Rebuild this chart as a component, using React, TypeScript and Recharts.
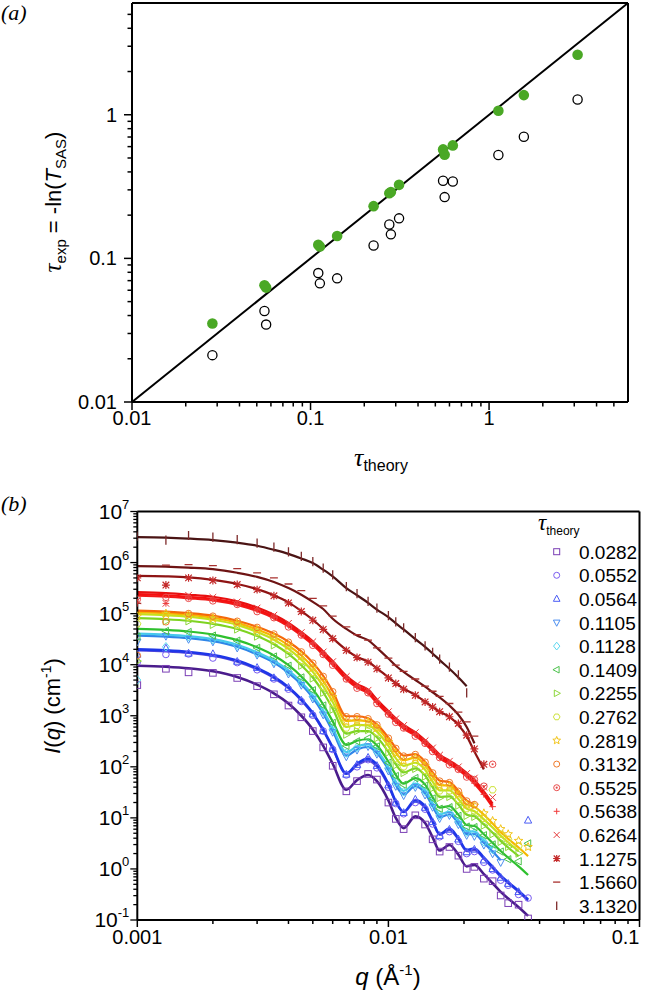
import React from 'react';
import { ComposedChart, Line, Scatter, XAxis, YAxis } from 'recharts';

const FONT = "'Liberation Sans', Arial, Helvetica, sans-serif";
const SERIF = "'Liberation Serif', 'Times New Roman', serif";

// ---------------- Panel (a) data ----------------
const TAU_THEORY = [0.0282, 0.0552, 0.0564, 0.1105, 0.1128, 0.1409, 0.2255, 0.2762, 0.2819, 0.3132, 0.5525, 0.5638, 0.6264, 1.1275, 1.566, 3.132];
const TAU_EXP_CORRECTED = [0.0352, 0.0649, 0.0626, 0.1245, 0.121, 0.143, 0.231, 0.284, 0.29, 0.325, 0.574, 0.527, 0.612, 1.066, 1.37, 2.62];
const TAU_EXP_RAW = [0.0212, 0.043, 0.0346, 0.079, 0.067, 0.0726, 0.123, 0.172, 0.147, 0.19, 0.347, 0.267, 0.343, 0.525, 0.703, 1.277];
const DIAGONAL = [0.01, 6];
const A_DOMAIN = [0.01, 6];
const A_MAJOR_TICKS = [0.01, 0.1, 1];
const A_MAJOR_LABELS = ['0.01', '0.1', '1'];
const A_MINOR_TICKS = [0.02, 0.03, 0.04, 0.05, 0.06, 0.07, 0.08, 0.09, 0.2, 0.3, 0.4, 0.5, 0.6, 0.7, 0.8, 0.9, 2, 3, 4, 5];

// ---------------- Panel (b) data ----------------
const Q_GRID = [0.001, 0.0013, 0.0016, 0.002, 0.0025, 0.003, 0.0035, 0.004, 0.0045, 0.005, 0.0055, 0.006, 0.0068, 0.0075, 0.0083, 0.009, 0.01, 0.0107, 0.0115, 0.0128, 0.014, 0.015, 0.016, 0.0175, 0.019, 0.0205, 0.022, 0.024, 0.026, 0.028, 0.03, 0.033, 0.036];
const B_TAU_LABELS = ['0.0282', '0.0552', '0.0564', '0.1105', '0.1128', '0.1409', '0.2255', '0.2762', '0.2819', '0.3132', '0.5525', '0.5638', '0.6264', '1.1275', '1.5660', '3.1320'];
const B_MARKERS = ['square', 'circle', 'triUp', 'triDown', 'diamond', 'triLeft', 'triRight', 'hexagon', 'star', 'circle', 'circleDot', 'plus', 'cross', 'asterisk', 'hdash', 'vbar'];
const B_MARK_COLORS = ['#7b3fb5', '#7a5cf0', '#4a5cf5', '#4a8ef0', '#5ad8f0', '#4cc24c', '#8ed83c', '#cde23a', '#f2c418', '#f07a2a', '#e84a4a', '#f03a3a', '#e63a3a', '#c42a2a', '#a8302e', '#7e2a2a'];
const B_LINE_COLORS = ['#4a1c8c', '#5a4ad8', '#1e36e8', '#2f86e8', '#46c8ec', '#2ec02e', '#7ed321', '#c4e01c', '#f5b800', '#f56a0a', '#f21a1a', '#f51010', '#e81010', '#8e1414', '#6e1414', '#4a1414'];

// fitted curves, log10 I(q) read on Q_GRID
const FIT_0282 = [3.98, 3.96, 3.93, 3.87, 3.76, 3.61, 3.44, 3.24, 3.0, 2.73, 2.41, 2.06, 1.55, 1.74, 1.84, 1.72, 1.34, 1.0, 0.8, 1.03, 0.9, 0.62, 0.36, 0.47, 0.28, 0.05, 0.08, -0.1, -0.28, -0.45, -0.58, -0.75, -0.92];
const FIT_0552 = [4.28, 4.26, 4.23, 4.17, 4.06, 3.91, 3.74, 3.54, 3.3, 3.03, 2.71, 2.36, 1.86, 2.03, 2.12, 2.0, 1.63, 1.31, 1.11, 1.32, 1.19, 0.92, 0.67, 0.76, 0.58, 0.35, 0.37, 0.2, 0.02, -0.15, -0.28, -0.45, -0.62];
const FIT_0564 = [4.3, 4.28, 4.25, 4.19, 4.08, 3.93, 3.76, 3.56, 3.32, 3.05, 2.73, 2.38, 1.87, 2.06, 2.16, 2.04, 1.66, 1.32, 1.12, 1.35, 1.22, 0.94, 0.68, 0.79, 0.6, 0.37, 0.4, 0.22, 0.04, -0.13, -0.26, -0.43, -0.6];
const FIT_1105 = [4.57, 4.55, 4.52, 4.46, 4.35, 4.2, 4.04, 3.84, 3.61, 3.35, 3.04, 2.7, 2.22, 2.34, 2.39, 2.27, 1.94, 1.64, 1.46, 1.62, 1.48, 1.23, 1.01, 1.07, 0.89, 0.68, 0.68, 0.51, 0.34, 0.17];
const FIT_1128 = [4.61, 4.59, 4.56, 4.5, 4.39, 4.24, 4.08, 3.89, 3.66, 3.4, 3.1, 2.76, 2.29, 2.4, 2.44, 2.32, 1.99, 1.71, 1.53, 1.67, 1.54, 1.29, 1.07, 1.12, 0.95, 0.74, 0.73, 0.56, 0.4];
const FIT_1409 = [4.7, 4.68, 4.65, 4.59, 4.48, 4.34, 4.18, 3.99, 3.77, 3.52, 3.22, 2.89, 2.43, 2.51, 2.54, 2.42, 2.1, 1.84, 1.67, 1.78, 1.65, 1.4, 1.2, 1.23, 1.06, 0.86, 0.84, 0.68, 0.51, 0.35, 0.22, 0.05, -0.12];
const FIT_2255 = [4.91, 4.89, 4.86, 4.8, 4.7, 4.56, 4.4, 4.21, 3.99, 3.75, 3.46, 3.14, 2.65, 2.7, 2.7, 2.58, 2.29, 2.05, 1.89, 1.97, 1.83, 1.6, 1.41, 1.42, 1.26, 1.06, 1.03, 0.87, 0.71, 0.55, 0.42, 0.25];
const FIT_2762 = [4.99, 4.97, 4.94, 4.88, 4.78, 4.64, 4.49, 4.31, 4.1, 3.86, 3.58, 3.27, 2.78, 2.82, 2.81, 2.69, 2.41, 2.17, 2.02, 2.08, 1.94, 1.71, 1.54, 1.54, 1.37, 1.18, 1.13, 0.97, 0.81, 0.65, 0.52, 0.35];
const FIT_2819 = [5.03, 5.01, 4.98, 4.92, 4.82, 4.69, 4.55, 4.38, 4.18, 3.95, 3.68, 3.38, 2.9, 2.91, 2.89, 2.77, 2.5, 2.28, 2.13, 2.18, 2.03, 1.81, 1.64, 1.63, 1.47, 1.26, 1.22, 1.06, 0.89, 0.72, 0.59, 0.42, 0.25];
const FIT_3132 = [5.06, 5.04, 5.01, 4.96, 4.86, 4.74, 4.61, 4.45, 4.26, 4.04, 3.78, 3.48, 2.99, 2.99, 2.95, 2.83, 2.57, 2.37, 2.22, 2.25, 2.1, 1.89, 1.73, 1.7, 1.53, 1.34, 1.27];
const FIT_5525 = [5.35, 5.33, 5.3, 5.26, 5.17, 5.05, 4.91, 4.75, 4.57, 4.39, 4.19, 4.0, 3.71, 3.55, 3.44, 3.25, 3.02, 2.88, 2.75, 2.61, 2.45, 2.31, 2.17, 2.05, 1.94, 1.81, 1.67, 1.45, 1.21];
const FIT_5638 = [5.38, 5.36, 5.33, 5.29, 5.2, 5.08, 4.94, 4.78, 4.6, 4.42, 4.22, 4.03, 3.74, 3.58, 3.47, 3.28, 3.05, 2.91, 2.78, 2.64, 2.48, 2.34, 2.2, 2.08, 1.97, 1.84, 1.7, 1.48, 1.24];
const FIT_6264 = [5.42, 5.4, 5.37, 5.33, 5.24, 5.12, 4.98, 4.82, 4.64, 4.46, 4.26, 4.07, 3.78, 3.62, 3.51, 3.32, 3.09, 2.95, 2.82, 2.68, 2.52, 2.38, 2.24, 2.12, 2.01, 1.88, 1.74, 1.52, 1.28];
const FIT_11275 = [5.74, 5.73, 5.71, 5.66, 5.58, 5.48, 5.36, 5.22, 5.05, 4.88, 4.7, 4.52, 4.29, 4.15, 4.06, 3.93, 3.75, 3.64, 3.53, 3.41, 3.27, 3.17, 3.08, 2.98, 2.82, 2.6, 2.3, 1.95];
const FIT_15660 = [5.93, 5.92, 5.9, 5.87, 5.8, 5.72, 5.62, 5.5, 5.37, 5.23, 5.09, 4.9, 4.7, 4.57, 4.48, 4.33, 4.12, 3.98, 3.86, 3.7, 3.57, 3.46, 3.36, 3.2, 3.02, 2.78, 2.46];
const FIT_31320 = [6.5, 6.49, 6.47, 6.44, 6.39, 6.33, 6.25, 6.17, 6.08, 5.99, 5.86, 5.73, 5.5, 5.36, 5.21, 5.08, 4.93, 4.81, 4.69, 4.5, 4.35, 4.22, 4.09, 3.92, 3.75, 3.58];

// measured points, log10 I(q) on Q_GRID
const MEAS_0282 = [3.6, 3.92, 3.85, 3.84, 3.74, 3.58, 3.42, 3.2, 2.97, 2.7, 2.38, 2.02, 1.52, 1.72, 1.86, 1.75, 1.3, 0.98, 0.78, 1.05, 0.87, 0.58, 0.34, 0.43, 0.26, 0.0, 0.04, -0.19, -0.24, -0.52, -0.67, -0.7, -0.97];
const MEAS_0552 = [4.05, 4.2, 4.21, 4.13, 4.04, 3.9, 3.72, 3.52, 3.28, 3.01, 2.7, 2.34, 1.84, 2.0, 2.14, 1.98, 1.6, 1.28, 1.08, 1.3, 1.17, 0.88, 0.63, 0.73, 0.54, 0.3, 0.34, 0.13, -0.02, -0.22, -0.32, -0.5, -0.57];
const MEAS_0564 = [4.2, 4.32, 4.22, 4.21, 4.06, 3.94, 3.74, 3.55, 3.3, 3.03, 2.7, 2.35, 1.85, 2.04, 2.18, 2.02, 1.64, 1.3, 1.1, 1.36, 1.2, 0.92, 0.65, 0.77, 0.58, 0.33, 0.38, 0.17, 0.0, -0.17, -0.29, -0.45, 0.95];
const MEAS_1105 = [4.45, 4.56, 4.5, 4.45, 4.33, 4.19, 4.02, 3.82, 3.6, 3.33, 3.02, 2.68, 2.2, 2.33, 2.4, 2.25, 1.92, 1.62, 1.44, 1.6, 1.45, 1.21, 0.99, 1.05, 0.87, 0.66, 0.64, 0.47, 0.3, 0.13];
const MEAS_1128 = [3.7, 4.35, 4.55, 4.49, 4.38, 4.23, 4.06, 3.87, 3.65, 3.38, 3.08, 2.74, 2.27, 2.38, 2.45, 2.3, 1.98, 1.7, 1.51, 1.66, 1.52, 1.28, 1.05, 1.1, 0.93, 0.72, 0.71, 0.53, 0.38];
const MEAS_1409 = [4.55, 4.66, 4.64, 4.57, 4.47, 4.33, 4.16, 3.98, 3.75, 3.5, 3.2, 2.86, 2.41, 2.5, 2.56, 2.4, 2.08, 1.82, 1.65, 1.78, 1.63, 1.38, 1.18, 1.21, 1.04, 0.83, 0.82, 0.66, 0.48, 0.34, 0.19, 0.15, 0.5];
const MEAS_2255 = [4.07, 4.85, 4.85, 4.78, 4.69, 4.55, 4.38, 4.2, 3.98, 3.73, 3.45, 3.12, 2.63, 2.7, 2.72, 2.56, 2.28, 2.03, 1.88, 1.96, 1.81, 1.58, 1.39, 1.41, 1.24, 1.04, 1.02, 0.85, 0.68, 0.53, 0.43, 0.3];
const MEAS_2762 = [4.8, 4.96, 4.93, 4.87, 4.77, 4.63, 4.48, 4.3, 4.08, 3.85, 3.57, 3.25, 2.76, 2.81, 2.82, 2.68, 2.4, 2.16, 2.0, 2.07, 1.93, 1.7, 1.53, 1.53, 1.36, 1.18, 1.14, 0.99, 1.55, 0.68, 0.58, 0.45];
const MEAS_2819 = [4.95, 5.0, 4.97, 4.91, 4.81, 4.68, 4.54, 4.37, 4.17, 3.94, 3.67, 3.37, 2.89, 2.9, 2.88, 2.76, 2.49, 2.27, 2.12, 2.17, 2.02, 1.8, 1.63, 1.62, 1.46, 1.26, 1.24, 1.09, 0.94, 0.78, 0.68, 0.55, 0.43];
const MEAS_3132 = [4.18, 4.84, 5.0, 4.95, 4.85, 4.73, 4.6, 4.44, 4.25, 4.03, 3.77, 3.47, 2.98, 2.98, 2.94, 2.82, 2.56, 2.36, 2.21, 2.24, 2.09, 1.88, 1.72, 1.69, 1.52, 1.33, 1.26];
const MEAS_5525 = [5.28, 5.32, 5.3, 5.25, 5.18, 5.04, 4.92, 4.74, 4.58, 4.38, 4.2, 3.99, 3.72, 3.54, 3.45, 3.24, 3.03, 2.87, 2.76, 2.6, 2.46, 2.3, 2.18, 2.04, 1.95, 1.8, 1.75, 1.62, 2.05];
const MEAS_5638 = [5.2, 5.2, 5.32, 5.28, 5.19, 5.07, 4.93, 4.77, 4.59, 4.41, 4.21, 4.02, 3.73, 3.57, 3.46, 3.27, 3.04, 2.9, 2.77, 2.63, 2.47, 2.33, 2.19, 2.07, 1.96, 1.83, 1.68, 1.46, 1.22];
const MEAS_6264 = [5.25, 5.2, 5.36, 5.32, 5.23, 5.11, 4.97, 4.81, 4.63, 4.45, 4.25, 4.06, 3.77, 3.61, 3.5, 3.31, 3.08, 2.94, 2.81, 2.67, 2.51, 2.37, 2.23, 2.11, 2.0, 1.87, 1.78, 1.6, 1.4];
const MEAS_11275 = [5.7, 5.56, 5.7, 5.65, 5.57, 5.47, 5.35, 5.21, 5.04, 4.87, 4.69, 4.51, 4.28, 4.14, 4.05, 3.92, 3.74, 3.63, 3.52, 3.4, 3.27, 3.17, 3.08, 2.98, 2.85, 2.62, 2.35, 2.05];
const MEAS_15660 = [5.2, 5.95, 5.96, 5.94, 5.88, 5.8, 5.7, 5.58, 5.45, 5.3, 5.15, 4.95, 4.74, 4.59, 4.48, 4.33, 4.13, 3.99, 3.87, 3.72, 3.58, 3.48, 3.38, 3.24, 3.07, 2.88, 2.6];
const MEAS_31320 = [6.52, 6.44, 6.53, 6.5, 6.45, 6.38, 6.3, 6.21, 6.12, 6.02, 5.89, 5.76, 5.53, 5.39, 5.24, 5.11, 4.96, 4.84, 4.72, 4.53, 4.37, 4.24, 4.11, 3.95, 3.8, 3.45];

const FIT_LOG = [FIT_0282, FIT_0552, FIT_0564, FIT_1105, FIT_1128, FIT_1409, FIT_2255, FIT_2762, FIT_2819, FIT_3132, FIT_5525, FIT_5638, FIT_6264, FIT_11275, FIT_15660, FIT_31320];
const MEAS_LOG = [MEAS_0282, MEAS_0552, MEAS_0564, MEAS_1105, MEAS_1128, MEAS_1409, MEAS_2255, MEAS_2762, MEAS_2819, MEAS_3132, MEAS_5525, MEAS_5638, MEAS_6264, MEAS_11275, MEAS_15660, MEAS_31320];

const B_X_DOMAIN = [0.001, 0.1];
const B_Y_DOMAIN = [0.1, 1e7];
const B_X_MAJOR = [0.001, 0.01, 0.1];
const B_X_LABELS = ['0.001', '0.01', '0.1'];
const B_X_MINOR = [0.002, 0.003, 0.004, 0.005, 0.006, 0.007, 0.008, 0.009, 0.02, 0.03, 0.04, 0.05, 0.06, 0.07, 0.08, 0.09];
const B_Y_MAJOR = [0.1, 1, 10, 100, 1000, 10000, 100000, 1000000, 10000000];
const B_Y_EXPONENTS = ['-1', '0', '1', '2', '3', '4', '5', '6', '7'];
const MINOR_MULT = [2, 3, 4, 5, 6, 7, 8, 9];

// ---------------- tables ----------------
const A_RAW = TAU_THEORY.map((t, i) => ({ x: t, y: TAU_EXP_RAW[i] }));
const A_CORR = TAU_THEORY.map((t, i) => ({ x: t, y: TAU_EXP_CORRECTED[i] }));
const A_DIAG = DIAGONAL.map((v) => ({ x: v, y: v }));
const A_TICKS = [...A_MAJOR_TICKS, ...A_MINOR_TICKS].sort((a, b) => a - b);

const toTable = (arr: number[]) => arr.map((v, k) => ({ q: Q_GRID[k], I: Math.pow(10, v) }));
const FIT_DATA = FIT_LOG.map(toTable);
const MEAS_DATA = MEAS_LOG.map(toTable);
const B_X_TICKS = [...B_X_MAJOR, ...B_X_MINOR].sort((a, b) => a - b);
const B_Y_MINOR: number[] = [];
B_Y_MAJOR.slice(0, -1).forEach((m) => MINOR_MULT.forEach((k) => B_Y_MINOR.push(m * k)));
const B_Y_TICKS = [...B_Y_MAJOR, ...B_Y_MINOR].sort((a, b) => a - b);

const majorIndex = (list: number[], v: number) => list.findIndex((m) => Math.abs(v / m - 1) < 1e-6);

// ---------------- marker shapes ----------------
function Marker({ kind, cx, cy, color, s = 3.3 }: any) {
  if (cx == null || cy == null || isNaN(cx) || isNaN(cy)) return null;
  const c = { fill: 'none', stroke: color, strokeWidth: 1 };
  const pts = (arr: number[][]) => arr.map((p) => `${cx + p[0]},${cy + p[1]}`).join(' ');
  switch (kind) {
    case 'square':
      return <rect x={cx - s} y={cy - s} width={2 * s} height={2 * s} {...c} />;
    case 'circle':
      return <circle cx={cx} cy={cy} r={s} {...c} />;
    case 'triUp':
      return <polygon points={pts([[0, -1.25 * s], [-1.1 * s, 0.8 * s], [1.1 * s, 0.8 * s]])} {...c} />;
    case 'triDown':
      return <polygon points={pts([[0, 1.25 * s], [-1.1 * s, -0.8 * s], [1.1 * s, -0.8 * s]])} {...c} />;
    case 'triLeft':
      return <polygon points={pts([[-1.25 * s, 0], [0.8 * s, -1.1 * s], [0.8 * s, 1.1 * s]])} {...c} />;
    case 'triRight':
      return <polygon points={pts([[1.25 * s, 0], [-0.8 * s, -1.1 * s], [-0.8 * s, 1.1 * s]])} {...c} />;
    case 'diamond':
      return <polygon points={pts([[0, -1.3 * s], [1.05 * s, 0], [0, 1.3 * s], [-1.05 * s, 0]])} {...c} />;
    case 'hexagon': {
      const a: number[][] = [];
      for (let i = 0; i < 6; i++) a.push([1.1 * s * Math.cos((Math.PI / 3) * i), 1.1 * s * Math.sin((Math.PI / 3) * i)]);
      return <polygon points={pts(a)} {...c} />;
    }
    case 'star': {
      const a: number[][] = [];
      for (let i = 0; i < 10; i++) {
        const r = i % 2 === 0 ? 1.35 * s : 0.6 * s;
        const ang = -Math.PI / 2 + (Math.PI / 5) * i;
        a.push([r * Math.cos(ang), r * Math.sin(ang)]);
      }
      return <polygon points={pts(a)} {...c} />;
    }
    case 'circleDot':
      return (
        <g>
          <circle cx={cx} cy={cy} r={s} {...c} />
          <circle cx={cx} cy={cy} r={1.1} fill={color} />
        </g>
      );
    case 'plus':
      return <path d={`M${cx - s},${cy}H${cx + s}M${cx},${cy - s}V${cy + s}`} {...c} />;
    case 'cross':
      return <path d={`M${cx - s},${cy - s}L${cx + s},${cy + s}M${cx - s},${cy + s}L${cx + s},${cy - s}`} {...c} />;
    case 'asterisk':
      return (
        <path
          d={`M${cx - s},${cy - s}L${cx + s},${cy + s}M${cx - s},${cy + s}L${cx + s},${cy - s}M${cx - s * 1.2},${cy}H${cx + s * 1.2}M${cx},${cy - s * 1.2}V${cy + s * 1.2}`}
          {...c}
          strokeWidth={1.2}
        />
      );
    case 'hdash':
      return <path d={`M${cx - s * 1.2},${cy}H${cx + s * 1.2}`} {...c} strokeWidth={1.3} />;
    case 'vbar':
      return <path d={`M${cx},${cy - s * 1.4}V${cy + s * 1.4}`} {...c} strokeWidth={1.3} />;
    default:
      return null;
  }
}

// ---------------- ticks ----------------
const AXTick = (props: any) => {
  const { x, y, payload } = props;
  const idx = majorIndex(A_MAJOR_TICKS, payload.value);
  const major = idx >= 0;
  return (
    <g>
      <line x1={x} x2={x} y1={y} y2={y + (major ? 8 : 4.5)} stroke="#000" strokeWidth={1.5} />
      {major && (
        <text x={x} y={y + 23} textAnchor="middle" fontSize={20} fontFamily={FONT} fill="#000">
          {A_MAJOR_LABELS[idx]}
        </text>
      )}
    </g>
  );
};
const AYTick = (props: any) => {
  const { x, y, payload } = props;
  const idx = majorIndex(A_MAJOR_TICKS, payload.value);
  const major = idx >= 0;
  return (
    <g>
      <line x1={x - (major ? 8 : 4.5)} x2={x} y1={y} y2={y} stroke="#000" strokeWidth={1.5} />
      {major && (
        <text x={x - 15} y={y + 7} textAnchor="end" fontSize={20} fontFamily={FONT} fill="#000">
          {A_MAJOR_LABELS[idx]}
        </text>
      )}
    </g>
  );
};
const BXTick = (props: any) => {
  const { x, y, payload } = props;
  const idx = majorIndex(B_X_MAJOR, payload.value);
  const major = idx >= 0;
  const last = idx === B_X_MAJOR.length - 1;
  return (
    <g>
      <line x1={x} x2={x} y1={y} y2={y + (major ? 7 : 4)} stroke="#000" strokeWidth={1.5} />
      {major && (
        <text x={last ? Math.min(x, 650) : x} y={y + 24} textAnchor={last ? 'end' : 'middle'} dx={last ? 0 : 0} fontSize={20} fontFamily={FONT} fill="#000">
          {B_X_LABELS[idx]}
        </text>
      )}
    </g>
  );
};
const BYTick = (props: any) => {
  const { x, y, payload } = props;
  const idx = majorIndex(B_Y_MAJOR, payload.value);
  const major = idx >= 0;
  return (
    <g>
      <line x1={x - (major ? 7 : 4)} x2={x} y1={y} y2={y} stroke="#000" strokeWidth={1.3} />
      {major && (
        <text x={x - 8} y={y + 7} textAnchor="end" fontSize={21} fontFamily={FONT} fill="#000">
          10<tspan fontSize={13} dy={-10}>{B_Y_EXPONENTS[idx]}</tspan>
        </text>
      )}
    </g>
  );
};

const AXIS_LINE = { stroke: '#000', strokeWidth: 2 };

export default function App() {
  return (
    <div style={{ position: 'absolute', left: 0, top: 0, width: 651, height: 996, background: '#fff', fontFamily: FONT }}>
      {/* Panel (a) */}
      <div style={{ position: 'absolute', left: 0, top: 0 }}>
        <ComposedChart width={651} height={490} margin={{ top: 2, right: 22, bottom: 87, left: 131 }}>
          <XAxis
            xAxisId={0}
            type="number"
            dataKey="x"
            scale="log"
            domain={A_DOMAIN}
            allowDataOverflow
            ticks={A_TICKS}
            interval={0}
            tick={AXTick}
            tickLine={false}
            tickSize={0}
            tickMargin={0}
            axisLine={AXIS_LINE}
            height={1}
          />
          <XAxis xAxisId="top" orientation="top" type="number" scale="log" domain={A_DOMAIN} allowDataOverflow tick={false} tickLine={false} axisLine={AXIS_LINE} height={1} />
          <YAxis
            yAxisId={0}
            type="number"
            dataKey="y"
            scale="log"
            domain={A_DOMAIN}
            allowDataOverflow
            ticks={A_TICKS}
            interval={0}
            tick={AYTick}
            tickLine={false}
            tickSize={0}
            tickMargin={0}
            axisLine={AXIS_LINE}
            width={1}
          />
          <YAxis yAxisId="right" orientation="right" type="number" scale="log" domain={A_DOMAIN} allowDataOverflow tick={false} tickLine={false} axisLine={AXIS_LINE} width={1} />
          <Line data={A_DIAG} dataKey="y" type="linear" stroke="#000" strokeWidth={2} dot={false} activeDot={false} isAnimationActive={false} />
          <Scatter
            data={A_RAW}
            dataKey="y"
            isAnimationActive={false}
            shape={(p: any) => <circle cx={p.cx} cy={p.cy} r={4.6} fill="none" stroke="#000" strokeWidth={1.3} />}
          />
          <Scatter
            data={A_CORR}
            dataKey="y"
            isAnimationActive={false}
            shape={(p: any) => <circle cx={p.cx} cy={p.cy} r={5.3} fill="#4aa825" stroke="none" />}
          />
        </ComposedChart>
      </div>

      {/* Panel (b) */}
      <div style={{ position: 'absolute', left: 0, top: 490 }}>
        <ComposedChart width={651} height={506} margin={{ top: 20.5, right: 10.5, bottom: 75, left: 136.3 }}>
          <XAxis
            xAxisId={0}
            type="number"
            dataKey="q"
            scale="log"
            domain={B_X_DOMAIN}
            allowDataOverflow
            ticks={B_X_TICKS}
            interval={0}
            tick={BXTick}
            tickLine={false}
            tickSize={0}
            tickMargin={0}
            axisLine={AXIS_LINE}
            height={1}
          />
          <XAxis xAxisId="top" orientation="top" type="number" scale="log" domain={B_X_DOMAIN} allowDataOverflow tick={false} tickLine={false} axisLine={AXIS_LINE} height={1} />
          <YAxis
            yAxisId={0}
            type="number"
            dataKey="I"
            scale="log"
            domain={B_Y_DOMAIN}
            allowDataOverflow
            ticks={B_Y_TICKS}
            interval={0}
            tick={BYTick}
            tickLine={false}
            tickSize={0}
            tickMargin={0}
            axisLine={AXIS_LINE}
            width={1}
          />
          <YAxis yAxisId="right" orientation="right" type="number" scale="log" domain={B_Y_DOMAIN} allowDataOverflow tick={false} tickLine={false} axisLine={AXIS_LINE} width={1} />
          {MEAS_DATA.map((d, i) => (
            <Scatter
              key={'m' + i}
              data={d}
              dataKey="I"
              isAnimationActive={false}
              shape={(p: any) => <Marker kind={B_MARKERS[i]} cx={p.cx} cy={p.cy} color={B_MARK_COLORS[i]} />}
            />
          ))}
          {FIT_DATA.map((d, i) => (
            <Line
              key={'f' + i}
              data={d}
              dataKey="I"
              type="monotone"
              stroke={B_LINE_COLORS[i]}
              strokeWidth={i === 0 || i === 2 ? 2.6 : 2.2}
              dot={false}
              activeDot={false}
              isAnimationActive={false}
            />
          ))}
        </ComposedChart>
      </div>

      {/* Text overlay: panel letters, axis titles, legend */}
      <svg width={651} height={996} style={{ position: 'absolute', left: 0, top: 0, pointerEvents: 'none' }}>
        <text x={1} y={20} fontSize={22} fontFamily={SERIF} fontStyle="italic" fill="#000">(a)</text>
        <text x={1} y={511} fontSize={22} fontFamily={SERIF} fontStyle="italic" fill="#000">(b)</text>

        <text transform="translate(61,202) rotate(-90)" textAnchor="middle" fontSize={22} fontFamily={FONT} fill="#000">
          <tspan fontFamily={SERIF} fontStyle="italic" fontSize={25}>τ</tspan>
          <tspan fontSize={15} dy={5}>exp</tspan>
          <tspan dy={-5}> = -ln(</tspan>
          <tspan fontStyle="italic">T</tspan>
          <tspan fontSize={15} dy={5}>SAS</tspan>
          <tspan dy={-5}>)</tspan>
        </text>
        <text x={381} y={466} textAnchor="middle" fontSize={22} fontFamily={FONT} fill="#000">
          <tspan fontFamily={SERIF} fontStyle="italic" fontSize={26}>τ</tspan>
          <tspan fontSize={16} dy={5}>theory</tspan>
        </text>

        <text transform="translate(60,706) rotate(-90)" textAnchor="middle" fontSize={22} fontFamily={FONT} fill="#000">
          <tspan fontStyle="italic">I</tspan>(<tspan fontStyle="italic">q</tspan>) (cm<tspan fontSize={14} dy={-9}>-1</tspan>
          <tspan dy={9}>)</tspan>
        </text>
        <text x={388} y={985} textAnchor="middle" fontSize={24} fontFamily={FONT} fill="#000">
          <tspan fontStyle="italic">q</tspan> (Å<tspan fontSize={15} dy={-10}>-1</tspan>
          <tspan dy={10}>)</tspan>
        </text>

        <text x={538} y={530} fontSize={20} fontFamily={FONT} fill="#000">
          <tspan fontFamily={SERIF} fontStyle="italic" fontSize={23}>τ</tspan>
          <tspan fontSize={12} dy={5}>theory</tspan>
        </text>
        {B_TAU_LABELS.map((lab, i) => (
          <g key={lab}>
            <Marker kind={B_MARKERS[i]} cx={556.7} cy={551.7 + i * 23.6} color={B_MARK_COLORS[i]} s={3} />
            <text x={579} y={551.7 + i * 23.6 + 7} fontSize={19} fontFamily={FONT} fill="#000">
              {lab}
            </text>
          </g>
        ))}
      </svg>
    </div>
  );
}
